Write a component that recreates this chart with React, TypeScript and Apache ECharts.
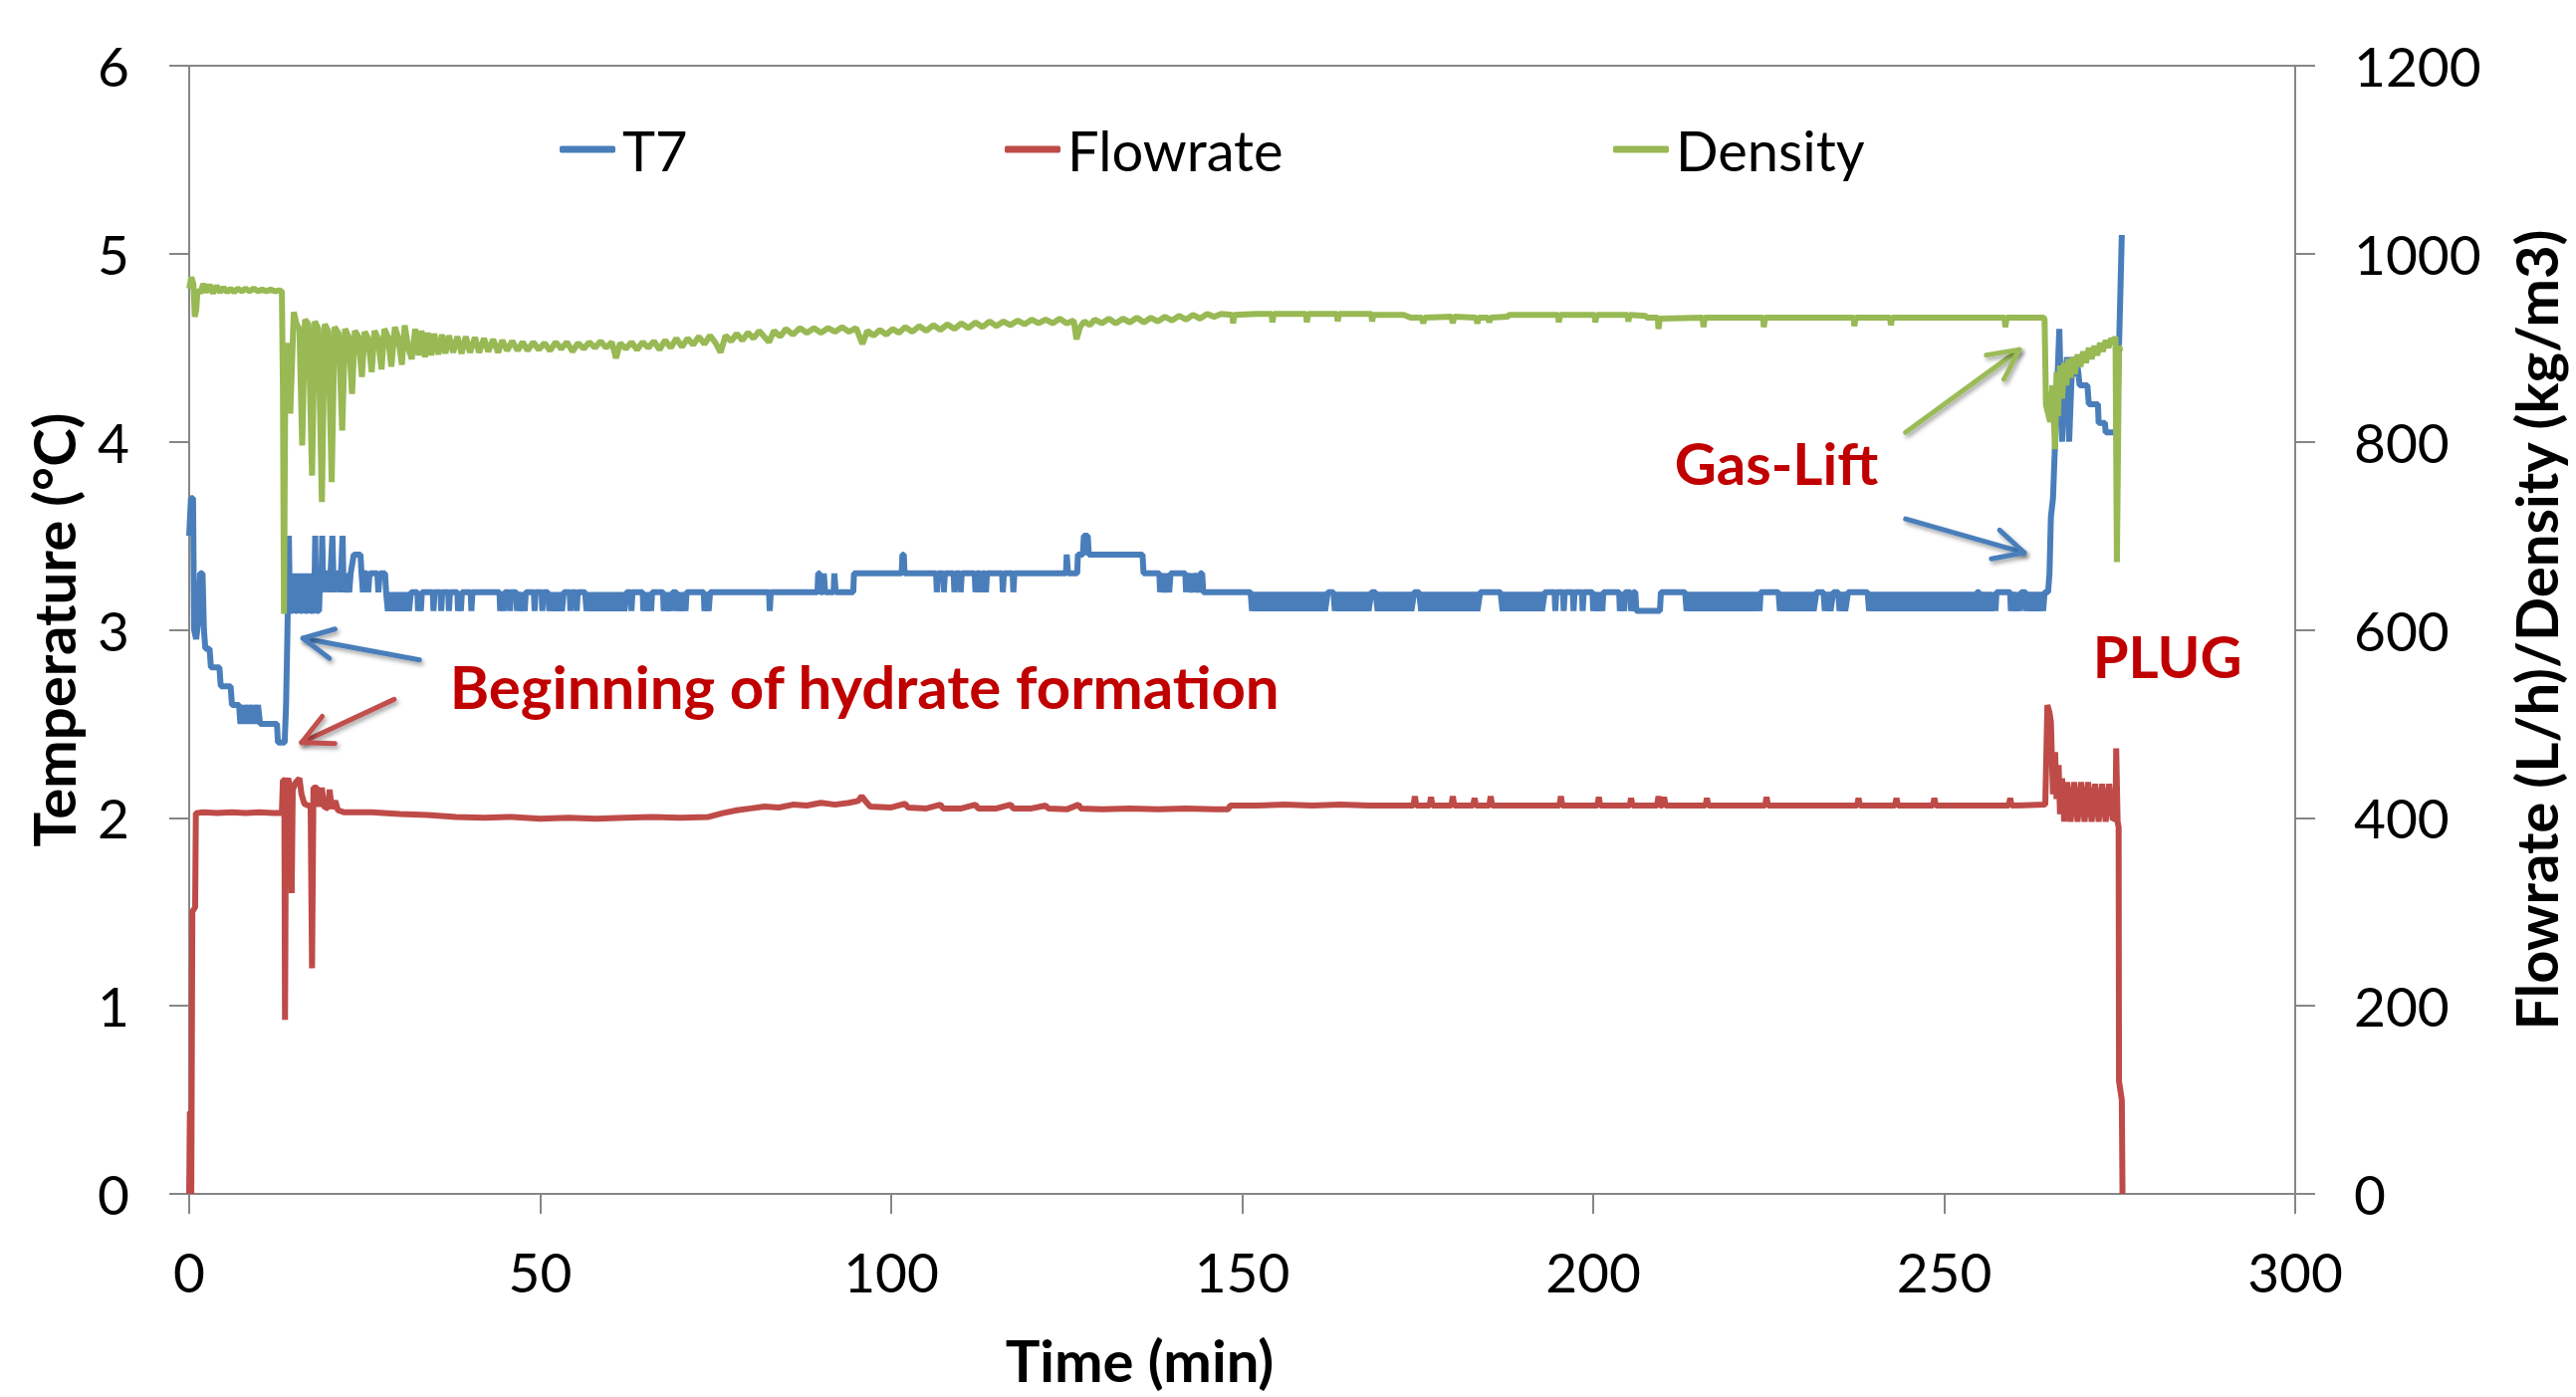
import React, { useEffect, useRef } from "react";
import * as echarts from "echarts";

// ---------------- DATA ----------------
// Time axis (min)
const X_MIN = 0;
const X_MAX = 300;
const X_STEP = 50;
// Left axis: Temperature (°C)
const T_MIN = 0;
const T_MAX = 6;
const T_STEP = 1;
// Right axis: Flowrate (L/h) / Density (kg/m3)
const R_MIN = 0;
const R_MAX = 1200;
const R_STEP = 200;

const SERIES_NAMES = ["T7", "Flowrate", "Density"];

// T7 temperature [time (min), °C]
const T7: [number, number][] = [
  [0, 3.5], [0.25, 3.7], [0.55, 3.7], [0.7, 3.0], [1.0, 2.95], [1.3, 3.05], [1.55, 3.3], [1.9, 3.3], [2.1, 3.0], [2.3, 2.9],
  [2.9, 2.9], [3.1, 2.8], [4.3, 2.8], [4.5, 2.7], [5.9, 2.7], [6.1, 2.6], [7.1, 2.6], [7.3, 2.5], [7.7, 2.6], [8.0, 2.5],
  [8.4, 2.6], [8.7, 2.5], [9.1, 2.6], [9.4, 2.5], [9.8, 2.6], [10.1, 2.5], [12.5, 2.5], [12.65, 2.4], [13.6, 2.4], [13.8, 2.6],
  [14.0, 3.0], [14.2, 3.5],
  [14.35, 3.1], [14.75, 3.1], [14.9, 3.3], [15.05, 3.1], [15.45, 3.1], [15.6, 3.3], [15.75, 3.1], [16.15, 3.1], [16.3, 3.3], [16.45, 3.1],
  [16.9, 3.1], [17.05, 3.3], [17.2, 3.1], [17.8, 3.1], [17.95, 3.5], [18.1, 3.1], [18.5, 3.1], [18.65, 3.3], [18.8, 3.2], [18.95, 3.5],
  [19.1, 3.2], [19.4, 3.3], [19.8, 3.3], [20.0, 3.2], [20.4, 3.5], [20.6, 3.2], [20.9, 3.3], [21.3, 3.3], [21.5, 3.2], [21.85, 3.5],
  [22.0, 3.2], [22.4, 3.3], [22.8, 3.2], [23.0, 3.3], [23.45, 3.4], [24.4, 3.4], [24.55, 3.3], [24.75, 3.2], [24.95, 3.3], [25.35, 3.3],
  [25.5, 3.2], [25.7, 3.3], [26.8, 3.3], [26.95, 3.2], [27.15, 3.3], [27.9, 3.3], [28.05, 3.2],
  [28.3, 3.1], [28.6, 3.2], [28.9, 3.1], [29.2, 3.2], [29.5, 3.1], [29.8, 3.2], [30.1, 3.1], [30.4, 3.2], [30.7, 3.1], [31.0, 3.2],
  [31.3, 3.1], [31.6, 3.2],
  [32.5, 3.2], [32.6, 3.1], [32.75, 3.2], [33.0, 3.1], [33.15, 3.2], [34.7, 3.2], [34.8, 3.1], [34.95, 3.2], [35.8, 3.2], [35.9, 3.1],
  [36.05, 3.2], [36.9, 3.2], [37.0, 3.1], [37.15, 3.2], [38.2, 3.2], [38.3, 3.1], [38.45, 3.2], [38.7, 3.1], [38.85, 3.2], [40.1, 3.2],
  [40.2, 3.1], [40.35, 3.2],
  [44.2, 3.2], [44.3, 3.1], [44.45, 3.2], [44.8, 3.1], [44.95, 3.2], [45.6, 3.2], [45.7, 3.1], [45.85, 3.2], [46.6, 3.2], [46.7, 3.1],
  [46.85, 3.2], [47.3, 3.1], [47.45, 3.2], [47.8, 3.1], [47.95, 3.2], [49.1, 3.2], [49.2, 3.1], [49.35, 3.2], [50.2, 3.2], [50.3, 3.1],
  [50.45, 3.2],
  [51.1, 3.2], [51.3, 3.1], [51.6, 3.2], [51.9, 3.1], [52.2, 3.2], [52.5, 3.1], [52.8, 3.2], [53.1, 3.1], [53.35, 3.2], [54.2, 3.2],
  [54.3, 3.1], [54.45, 3.2], [55.1, 3.2], [55.2, 3.1], [55.35, 3.2],
  [56.4, 3.2], [56.6, 3.1], [56.9, 3.2], [57.2, 3.1], [57.5, 3.2], [57.8, 3.1], [58.1, 3.2], [58.4, 3.1], [58.7, 3.2], [59.0, 3.1],
  [59.3, 3.2], [59.6, 3.1], [59.9, 3.2], [60.2, 3.1], [60.5, 3.2], [60.8, 3.1], [61.1, 3.2], [61.4, 3.1], [61.7, 3.2], [62.0, 3.1],
  [62.3, 3.2], [62.9, 3.2], [63.0, 3.1], [63.15, 3.2],
  [64.6, 3.2], [64.7, 3.1], [65.0, 3.2], [65.3, 3.1], [65.6, 3.2], [65.8, 3.1], [65.95, 3.2],
  [67.5, 3.2], [67.6, 3.1], [67.9, 3.2], [68.2, 3.1], [68.5, 3.2], [68.7, 3.1], [68.85, 3.2],
  [69.4, 3.2], [69.5, 3.1], [69.8, 3.2], [70.1, 3.1], [70.4, 3.2], [70.7, 3.1], [70.85, 3.2],
  [73.3, 3.2], [73.4, 3.1], [73.7, 3.2], [74.0, 3.1], [74.2, 3.2],
  [82.6, 3.2], [82.7, 3.1], [82.85, 3.2],
  [89.5, 3.2], [89.6, 3.3], [89.8, 3.3], [89.9, 3.2], [90.3, 3.2], [90.4, 3.3], [90.6, 3.2], [91.8, 3.2], [91.9, 3.3], [92.1, 3.2],
  [94.6, 3.2], [94.7, 3.3],
  [101.5, 3.3], [101.6, 3.4], [101.8, 3.4], [101.9, 3.3], [106.4, 3.3], [106.5, 3.2], [106.65, 3.3], [107.4, 3.3], [107.5, 3.2], [107.65, 3.3],
  [108.9, 3.3], [109.0, 3.2], [109.15, 3.3], [109.8, 3.3], [109.9, 3.2], [110.05, 3.3], [111.9, 3.3], [112.0, 3.2], [112.15, 3.3], [112.7, 3.3],
  [112.8, 3.2], [112.95, 3.3], [113.4, 3.3], [113.5, 3.2], [113.65, 3.3], [115.8, 3.3], [115.9, 3.2], [116.05, 3.3], [117.3, 3.3], [117.4, 3.2],
  [117.55, 3.3], [124.9, 3.3], [125.0, 3.4], [125.2, 3.3], [126.5, 3.3], [126.6, 3.4], [127.3, 3.4], [127.45, 3.5], [128.0, 3.5], [128.15, 3.4],
  [135.8, 3.4], [135.95, 3.3], [138.2, 3.3], [138.3, 3.2], [138.5, 3.3], [138.9, 3.2], [139.1, 3.3], [139.6, 3.2], [139.8, 3.3], [141.9, 3.3],
  [142.0, 3.2], [142.3, 3.3], [142.9, 3.2], [143.1, 3.3], [143.8, 3.2], [144.0, 3.3], [144.3, 3.3], [144.45, 3.2],
  [151.2, 3.2], [151.4, 3.1], [151.8, 3.2], [152.2, 3.1], [152.6, 3.2], [153.0, 3.1], [153.4, 3.2], [153.8, 3.1], [154.2, 3.2], [154.6, 3.1],
  [155.0, 3.2], [155.4, 3.1], [155.8, 3.2], [156.2, 3.1], [156.6, 3.2], [157.0, 3.1], [157.4, 3.2], [157.8, 3.1], [158.2, 3.2], [158.6, 3.1],
  [159.0, 3.2], [159.4, 3.1], [159.8, 3.2], [160.2, 3.1], [160.6, 3.2], [161.0, 3.1], [161.4, 3.2], [161.8, 3.1], [162.2, 3.2],
  [163.0, 3.2], [163.2, 3.1], [163.6, 3.2], [164.0, 3.1], [164.4, 3.2], [164.8, 3.1], [165.2, 3.2], [165.6, 3.1], [166.0, 3.2], [166.4, 3.1],
  [166.8, 3.2], [167.2, 3.1], [167.6, 3.2], [168.0, 3.1], [168.4, 3.2],
  [169.0, 3.2], [169.3, 3.1], [169.7, 3.2], [170.1, 3.1], [170.5, 3.2], [170.9, 3.1], [171.3, 3.2], [171.7, 3.1], [172.1, 3.2], [172.5, 3.1],
  [172.9, 3.2], [173.3, 3.1], [173.7, 3.2], [174.1, 3.1], [174.5, 3.2],
  [175.2, 3.2], [175.5, 3.1], [175.9, 3.2], [176.3, 3.1], [176.7, 3.2], [177.1, 3.1], [177.5, 3.2], [177.9, 3.1], [178.3, 3.2], [178.7, 3.1],
  [179.1, 3.2], [179.5, 3.1], [179.9, 3.2], [180.3, 3.1], [180.7, 3.2], [181.1, 3.1], [181.5, 3.2], [181.9, 3.1], [182.3, 3.2], [182.7, 3.1],
  [183.1, 3.2], [183.5, 3.1], [183.9, 3.2],
  [186.8, 3.2], [187.1, 3.1], [187.5, 3.2], [187.9, 3.1], [188.3, 3.2], [188.7, 3.1], [189.1, 3.2], [189.5, 3.1], [189.9, 3.2], [190.3, 3.1],
  [190.7, 3.2], [191.1, 3.1], [191.5, 3.2], [191.9, 3.1], [192.3, 3.2], [192.7, 3.1], [193.1, 3.2],
  [194.5, 3.2], [194.6, 3.1], [194.75, 3.2], [195.7, 3.2], [195.8, 3.1], [195.95, 3.2], [197.1, 3.2], [197.2, 3.1], [197.35, 3.2], [198.4, 3.2],
  [198.5, 3.1], [198.65, 3.2], [199.9, 3.2], [200.0, 3.1], [200.3, 3.2], [200.7, 3.1], [201.0, 3.2], [201.3, 3.1], [201.45, 3.2], [203.7, 3.2],
  [203.8, 3.1], [204.1, 3.2], [204.4, 3.1], [204.55, 3.2], [205.3, 3.2], [205.4, 3.1], [205.7, 3.2], [206.0, 3.2], [206.15, 3.1], [209.5, 3.1],
  [209.65, 3.2],
  [213.1, 3.2], [213.3, 3.1], [213.7, 3.2], [214.1, 3.1], [214.5, 3.2], [214.9, 3.1], [215.3, 3.2], [215.7, 3.1], [216.1, 3.2], [216.5, 3.1],
  [216.9, 3.2], [217.3, 3.1], [217.7, 3.2], [218.1, 3.1], [218.5, 3.2], [218.9, 3.1], [219.3, 3.2], [219.7, 3.1], [220.1, 3.2], [220.5, 3.1],
  [220.9, 3.2], [221.3, 3.1], [221.7, 3.2], [222.1, 3.1], [222.5, 3.2], [222.9, 3.1], [223.3, 3.2], [223.7, 3.1], [223.85, 3.2],
  [226.4, 3.2], [226.6, 3.1], [227.0, 3.2], [227.4, 3.1], [227.8, 3.2], [228.2, 3.1], [228.6, 3.2], [229.0, 3.1], [229.4, 3.2], [229.8, 3.1],
  [230.2, 3.2], [230.6, 3.1], [231.0, 3.2], [231.4, 3.1], [231.8, 3.2], [232.8, 3.2], [233.0, 3.1], [233.4, 3.2], [233.8, 3.1], [234.2, 3.2],
  [234.9, 3.2], [235.1, 3.1], [235.5, 3.2], [235.9, 3.1], [236.3, 3.2],
  [239.1, 3.2], [239.3, 3.1], [239.7, 3.2], [240.1, 3.1], [240.5, 3.2], [240.9, 3.1], [241.3, 3.2], [241.7, 3.1], [242.1, 3.2], [242.5, 3.1],
  [242.9, 3.2], [243.3, 3.1], [243.7, 3.2], [244.1, 3.1], [244.5, 3.2], [244.9, 3.1], [245.3, 3.2], [245.7, 3.1], [246.1, 3.2], [246.5, 3.1],
  [246.9, 3.2], [247.3, 3.1], [247.7, 3.2], [248.1, 3.1], [248.5, 3.2], [248.9, 3.1], [249.3, 3.2], [249.7, 3.1], [250.1, 3.2], [250.5, 3.1],
  [250.9, 3.2], [251.3, 3.1], [251.7, 3.2], [252.1, 3.1], [252.5, 3.2], [252.9, 3.1], [253.3, 3.2], [253.7, 3.1], [254.1, 3.2], [254.5, 3.1],
  [254.65, 3.2],
  [255.0, 3.2], [255.1, 3.1], [255.5, 3.2], [255.9, 3.1], [256.3, 3.2], [256.7, 3.1], [257.1, 3.2], [257.3, 3.1], [257.45, 3.2],
  [259.4, 3.2], [259.5, 3.1], [259.9, 3.2], [260.3, 3.1], [260.65, 3.2], [260.8, 3.1], [260.95, 3.2],
  [261.6, 3.2], [261.7, 3.1], [262.1, 3.2], [262.5, 3.1], [262.9, 3.2], [263.3, 3.1], [263.7, 3.2], [264.1, 3.1], [264.3, 3.2],
  [264.8, 3.2], [265.0, 3.3], [265.2, 3.6], [265.5, 3.7], [265.8, 4.0], [266.1, 4.3], [266.4, 4.6], [266.6, 4.3], [266.8, 4.0], [267.1, 4.3],
  [267.5, 4.45], [267.8, 4.0], [268.1, 4.3], [268.3, 4.45], [268.6, 4.35], [269.0, 4.4], [269.3, 4.3], [270.4, 4.3], [270.6, 4.2], [271.9, 4.2],
  [272.0, 4.1], [272.9, 4.1], [273.0, 4.05], [274.6, 4.05], [275.3, 5.1],
];

// Flowrate [time (min), L/h]
const FLOWRATE: [number, number][] = [
  [0, 0], [0.1, 87], [0.25, 87], [0.3, 0], [0.4, 0], [0.45, 300], [0.85, 305], [0.95, 405], [2.0, 406], [4.0, 405],
  [6.0, 406], [8.0, 405], [10.0, 406], [12.0, 405], [13.2, 405], [13.35, 440], [13.55, 440], [13.65, 185], [13.8, 435], [14.1, 442],
  [14.45, 430], [14.6, 320], [14.75, 430], [15.2, 438], [15.7, 442], [16.0, 425], [16.4, 415], [17.3, 412], [17.5, 240], [17.7, 432],
  [18.2, 432], [18.5, 412], [18.9, 432], [19.2, 412], [19.8, 410], [20.0, 430], [20.3, 410], [20.8, 418], [21.2, 408], [22.0, 406],
  [26, 406], [30, 404], [34, 403], [38, 401], [42, 400], [46, 401], [50, 399], [54, 400], [58, 399], [62, 400],
  [66, 401], [70, 400], [74, 401], [76, 405], [78, 408], [80, 410], [82, 412], [84, 411], [86, 414], [88, 413],
  [90, 416], [92, 414], [94, 416], [95.3, 418], [95.8, 423], [96.3, 418], [97.0, 412], [100, 411], [102, 415], [102.4, 411],
  [105, 410], [107, 414], [107.4, 410], [110, 410], [112, 414], [112.4, 410], [115, 410], [117, 414], [117.4, 410], [120, 410],
  [122, 413], [122.4, 410], [125, 409], [126.7, 414], [127, 410], [130, 409], [134, 410], [138, 409], [142, 410], [146, 409],
  [148, 409], [148.3, 413], [152, 413], [156, 414], [160, 413], [164, 414], [168, 413], [172, 413], [174.4, 413], [174.6, 423],
  [174.8, 413], [176.7, 413], [176.9, 422], [177.1, 413], [179.8, 413], [180.0, 423], [180.2, 413], [182.9, 413], [183.1, 421], [183.3, 413],
  [185.2, 413], [185.4, 423], [185.6, 413], [190, 413], [195.2, 413], [195.4, 423], [195.6, 413], [200.6, 413], [200.8, 422], [201.0, 413],
  [205.2, 413], [205.4, 421], [205.6, 413], [209.1, 413], [209.3, 423], [209.5, 413], [209.9, 413], [210.1, 422], [210.3, 413], [216.0, 413],
  [216.2, 421], [216.4, 413], [224.5, 413], [224.7, 422], [224.9, 413], [230, 413], [237.6, 413], [237.8, 421], [238.0, 413], [243.0, 413],
  [243.2, 421], [243.4, 413], [248.4, 413], [248.6, 421], [248.8, 413], [255, 413], [259.2, 413], [259.4, 421], [259.6, 413], [264.4, 414],
  [264.7, 520], [265.0, 512], [265.2, 502], [265.5, 425], [265.8, 470], [266.0, 420], [266.3, 456], [266.5, 404], [266.8, 442], [267.1, 396],
  [267.5, 438], [268.0, 396], [268.5, 438], [269.0, 396], [269.5, 438], [270.0, 396], [270.5, 438], [271.0, 396], [271.5, 436], [272.0, 396],
  [272.5, 436], [273.0, 396], [273.5, 436], [274.0, 398], [274.4, 400], [274.5, 474], [274.7, 396], [274.85, 390], [274.9, 120], [275.3, 100],
  [275.4, 0],
];

// Density [time (min), kg/m3]
const DENSITY: [number, number][] = [
  [0, 963], [0.3, 975], [0.6, 968], [0.8, 933], [1.0, 940], [1.2, 962], [1.6, 958], [2.0, 968], [2.4, 959], [2.9, 967],
  [3.4, 958], [3.9, 966], [4.4, 959], [4.9, 964], [5.4, 959], [5.9, 963], [6.4, 959], [6.9, 963], [7.5, 960], [8.0, 963],
  [8.6, 960], [9.2, 963], [9.8, 960], [10.4, 962], [11.0, 960], [11.6, 962], [12.2, 960], [12.8, 961], [13.2, 960], [13.35, 860],
  [13.5, 617], [13.7, 880], [13.9, 897], [14.1, 905], [14.4, 830], [14.9, 938], [15.3, 925], [15.7, 920], [16.1, 796], [16.5, 930],
  [17.0, 925], [17.5, 764], [17.9, 928], [18.4, 920], [18.9, 736], [19.3, 925], [19.8, 918], [20.3, 757], [20.7, 922], [21.3, 915],
  [21.8, 812], [22.2, 920], [22.7, 912], [23.2, 851], [23.6, 918], [24.1, 912], [24.6, 869], [25.0, 917], [25.5, 910], [26.0, 874],
  [26.4, 918], [26.9, 910], [27.4, 877], [27.8, 920], [28.3, 912], [28.8, 880], [29.3, 922], [29.8, 910], [30.3, 882], [30.7, 924],
  [31.2, 900], [31.7, 888], [32.2, 920], [32.7, 892], [33.1, 918], [33.6, 890], [34.0, 916], [34.5, 892], [34.9, 915], [35.5, 893],
  [36.0, 914], [36.5, 894], [37.0, 913], [37.6, 895], [38.2, 912], [38.8, 894], [39.4, 912], [40.0, 895], [40.7, 911], [41.3, 895],
  [42.0, 910], [42.6, 896], [43.3, 909], [44.0, 895], [44.6, 908], [45.3, 897], [46.0, 907], [46.8, 897], [47.5, 906], [48.2, 897],
  [49.0, 906], [49.8, 898], [50.6, 905], [51.4, 897], [52.2, 906], [53.0, 899], [53.8, 906], [54.6, 896], [55.4, 905], [56.2, 899],
  [57.0, 906], [57.8, 900], [58.6, 907], [59.4, 900], [60.2, 906], [60.8, 889], [61.4, 905], [62.2, 899], [63.0, 906], [63.8, 898],
  [64.6, 906], [65.4, 900], [66.2, 907], [67.0, 898], [67.8, 908], [68.6, 900], [69.4, 910], [70.2, 901], [71.0, 910], [71.8, 903],
  [72.6, 912], [73.4, 904], [74.2, 913], [75.0, 905], [75.7, 895], [76.4, 913], [77.2, 907], [78.0, 915], [78.8, 908], [79.6, 916],
  [80.4, 910], [81.2, 918], [82.0, 911], [82.6, 906], [83.3, 918], [84.2, 912], [85.0, 920], [86.0, 914], [87.0, 921], [88.0, 916],
  [89.0, 921], [90.0, 916], [91.0, 921], [92.0, 917], [93.0, 922], [94.0, 917], [95.0, 921], [95.9, 904], [96.6, 918], [97.5, 913],
  [98.4, 919], [99.3, 914], [100.2, 920], [101.1, 916], [102.0, 922], [103.0, 917], [104.0, 923], [105.0, 918], [106.0, 924], [107.0, 919],
  [108.0, 925], [109.0, 920], [110.0, 926], [111.0, 921], [112.0, 927], [113.0, 922], [114.0, 928], [115.0, 923], [116.0, 928], [117.0, 924],
  [118.0, 929], [119.0, 925], [120.0, 930], [121.0, 926], [122.0, 930], [123.0, 926], [124.0, 931], [125.0, 926], [126.0, 929], [126.4, 909],
  [126.9, 922], [127.5, 928], [128.3, 924], [129.0, 930], [130.0, 926], [131.0, 931], [132.0, 926], [133.0, 931], [134.0, 927], [135.0, 932],
  [136.0, 927], [137.0, 932], [138.0, 928], [139.0, 933], [140.0, 929], [141.0, 934], [142.0, 930], [143.0, 935], [144.0, 931], [145.0, 936],
  [146.0, 933], [147.0, 936], [148.6, 935], [148.7, 926], [148.9, 935], [152.0, 936], [154.2, 936], [154.3, 927], [154.5, 936], [159.1, 936],
  [159.2, 927], [159.4, 936], [163.5, 936], [163.6, 928], [163.8, 936], [168.4, 936], [168.5, 928], [168.7, 935], [173.0, 935], [174.0, 932],
  [175.6, 932], [175.8, 926], [176.0, 932], [179.8, 933], [180.0, 926], [180.2, 933], [183.3, 932], [183.5, 926], [183.7, 932], [185.0, 932],
  [185.2, 927], [185.4, 932], [187.8, 933], [188.0, 935], [195.0, 935], [195.1, 927], [195.3, 935], [200.2, 935], [200.3, 927], [200.5, 935],
  [204.9, 935], [205.0, 928], [205.2, 935], [207.5, 934], [207.6, 932], [209.2, 932], [209.3, 920], [209.5, 931], [215.6, 932], [215.7, 922],
  [215.9, 932], [224.2, 932], [224.3, 922], [224.5, 932], [237.1, 932], [237.2, 923], [237.4, 932], [242.3, 932], [242.4, 924], [242.6, 932],
  [258.6, 932], [258.7, 922], [258.9, 932], [264.2, 932], [264.3, 930], [264.5, 839], [264.8, 830], [265.1, 821], [265.4, 860], [265.8, 792],
  [266.0, 874], [266.2, 827], [266.5, 881], [266.8, 846], [267.1, 884], [267.4, 860], [267.7, 888], [268.0, 868], [268.3, 890], [268.6, 872],
  [269.0, 893], [269.4, 880], [269.8, 896], [270.2, 884], [270.6, 900], [271.0, 888], [271.4, 902], [271.8, 892], [272.2, 905], [272.6, 896],
  [273.0, 908], [273.4, 900], [273.8, 910], [274.2, 905], [274.4, 912], [274.6, 672], [274.9, 899], [275.4, 900],
];

// Annotation texts and arrows, anchored in (time, °C) coordinates
const LABEL_TEXTS = ["Beginning of hydrate formation", "Gas-Lift", "PLUG"];
const LABEL_AT: [number, number][] = [[96.2, 2.7], [226.1, 3.89], [281.8, 2.86]];
const ARROW_FROM: [number, number][] = [[32.8, 2.84], [29.2, 2.63], [244.5, 4.05], [244.5, 3.59]];
const ARROW_TO: [number, number][] = [[16.2, 2.955], [16.0, 2.4], [260.7, 4.49], [261.4, 3.41]];

// ---------------- STYLE ----------------
const W = 2587;
const H = 1403;
const FONT = "Lato, 'Open Sans', 'DejaVu Sans', sans-serif";
const BLUE = "#4A7EBB";
const RED = "#BE4B48";
const GREEN = "#98B954";
const ARROW_COLORS = ["#4A7EBB", "#C0504D", "#9BBB59", "#4A7EBB"];
const LABEL_SIZES = [60, 58, 58];
const AXIS_GRAY = "#868686";
const LEGEND_LEFT = [562, 1009, 1620];
const LINE_W = 6;

export default function App() {
  const ref = useRef<HTMLDivElement>(null);

  useEffect(() => {
    document.body.style.margin = "0";
    const el = ref.current!;
    const chart = echarts.init(el, null, { renderer: "svg", width: W, height: H });

    const axisLine = { show: true, lineStyle: { color: AXIS_GRAY, width: 2 } };
    const axisTick = { show: true, inside: false, length: 20, lineStyle: { color: AXIS_GRAY, width: 2 } };
    const labelStyle = { color: "#000", fontFamily: FONT, fontSize: 55 };
    const nameStyle = { color: "#000", fontFamily: FONT, fontSize: 58, fontWeight: "bold" as const };
    const plain = (v: number) => String(v);

    chart.setOption({
      animation: false,
      backgroundColor: "#ffffff",
      textStyle: { fontFamily: FONT },
      grid: {
        left: 190,
        right: 282,
        top: 66,
        bottom: 204,
        show: true,
        borderColor: AXIS_GRAY,
        borderWidth: 2,
        backgroundColor: "transparent",
      },
      legend: SERIES_NAMES.map((name, i) => ({
        data: [name],
        left: LEGEND_LEFT[i],
        top: 122,
        padding: 0,
        icon: "roundRect",
        itemWidth: 56,
        itemHeight: 7,
        selectedMode: false,
        textStyle: { color: "#000", fontFamily: FONT, fontSize: 56, padding: [0, 0, 0, 2] },
      })),
      xAxis: {
        type: "value",
        min: X_MIN,
        max: X_MAX,
        interval: X_STEP,
        name: "Time (min)",
        nameLocation: "middle",
        nameGap: 137,
        nameTextStyle: { ...nameStyle, padding: [0, 206, 0, 0] },
        axisLine,
        axisTick,
        axisLabel: { ...labelStyle, margin: 50, formatter: plain },
        splitLine: { show: false },
      },
      yAxis: [
        {
          type: "value",
          position: "left",
          min: T_MIN,
          max: T_MAX,
          interval: T_STEP,
          name: "Temperature (°C)",
          nameLocation: "middle",
          nameGap: 108,
          nameTextStyle: nameStyle,
          axisLine,
          axisTick,
          axisLabel: { ...labelStyle, margin: 60, formatter: plain },
          splitLine: { show: false },
        },
        {
          type: "value",
          position: "right",
          min: R_MIN,
          max: R_MAX,
          interval: R_STEP,
          name: "Flowrate (L/h)/Density (kg/m3)",
          nameLocation: "middle",
          nameGap: 212,
          nameTextStyle: nameStyle,
          axisLine,
          axisTick,
          axisLabel: { ...labelStyle, margin: 59, formatter: plain },
          splitLine: { show: false },
        },
      ],
      series: [
        {
          name: SERIES_NAMES[0],
          type: "line",
          yAxisIndex: 0,
          data: T7,
          showSymbol: false,
          symbol: "none",
          color: BLUE,
          lineStyle: { color: BLUE, width: LINE_W },
          z: 2,
        },
        {
          name: SERIES_NAMES[1],
          type: "line",
          yAxisIndex: 1,
          data: FLOWRATE,
          showSymbol: false,
          symbol: "none",
          color: RED,
          lineStyle: { color: RED, width: LINE_W },
          z: 3,
        },
        {
          name: SERIES_NAMES[2],
          type: "line",
          yAxisIndex: 1,
          data: DENSITY,
          showSymbol: false,
          symbol: "none",
          color: GREEN,
          lineStyle: { color: GREEN, width: LINE_W },
          z: 4,
        },
      ],
    });

    const px = (p: [number, number]) =>
      chart.convertToPixel({ xAxisIndex: 0, yAxisIndex: 0 }, p) as number[];

    const graphics: any[] = [];
    const shadow = {
      shadowBlur: 4,
      shadowColor: "rgba(0,0,0,0.35)",
      shadowOffsetX: 2,
      shadowOffsetY: 3,
    };
    ARROW_FROM.forEach((from, i) => {
      const [x1, y1] = px(from);
      const [x2, y2] = px(ARROW_TO[i]);
      const dx = x2 - x1;
      const dy = y2 - y1;
      const len = Math.hypot(dx, dy) || 1;
      const ux = dx / len;
      const uy = dy / len;
      const hl = 30;
      const hw = 15;
      const w1 = [x2 - ux * hl - uy * hw, y2 - uy * hl + ux * hw];
      const w2 = [x2 - ux * hl + uy * hw, y2 - uy * hl - ux * hw];
      graphics.push({
        type: "line",
        shape: { x1, y1, x2, y2 },
        style: { stroke: ARROW_COLORS[i], lineWidth: 5, lineCap: "round", ...shadow },
        z: 10,
      });
      graphics.push({
        type: "polyline",
        shape: { points: [w1, [x2, y2], w2] },
        style: { stroke: ARROW_COLORS[i], lineWidth: 5, lineCap: "round", lineJoin: "round", fill: null, ...shadow },
        z: 10,
      });
    });
    LABEL_TEXTS.forEach((text, i) => {
      const [x, y] = px(LABEL_AT[i]);
      graphics.push({
        type: "text",
        x,
        y,
        z: 11,
        style: {
          text,
          fill: "#C00000",
          fontFamily: FONT,
          fontSize: LABEL_SIZES[i],
          fontWeight: "bold",
          align: "center",
          verticalAlign: "middle",
        },
      });
    });
    chart.setOption({ graphic: graphics });

    return () => chart.dispose();
  }, []);

  return <div ref={ref} style={{ width: W, height: H }} />;
}
